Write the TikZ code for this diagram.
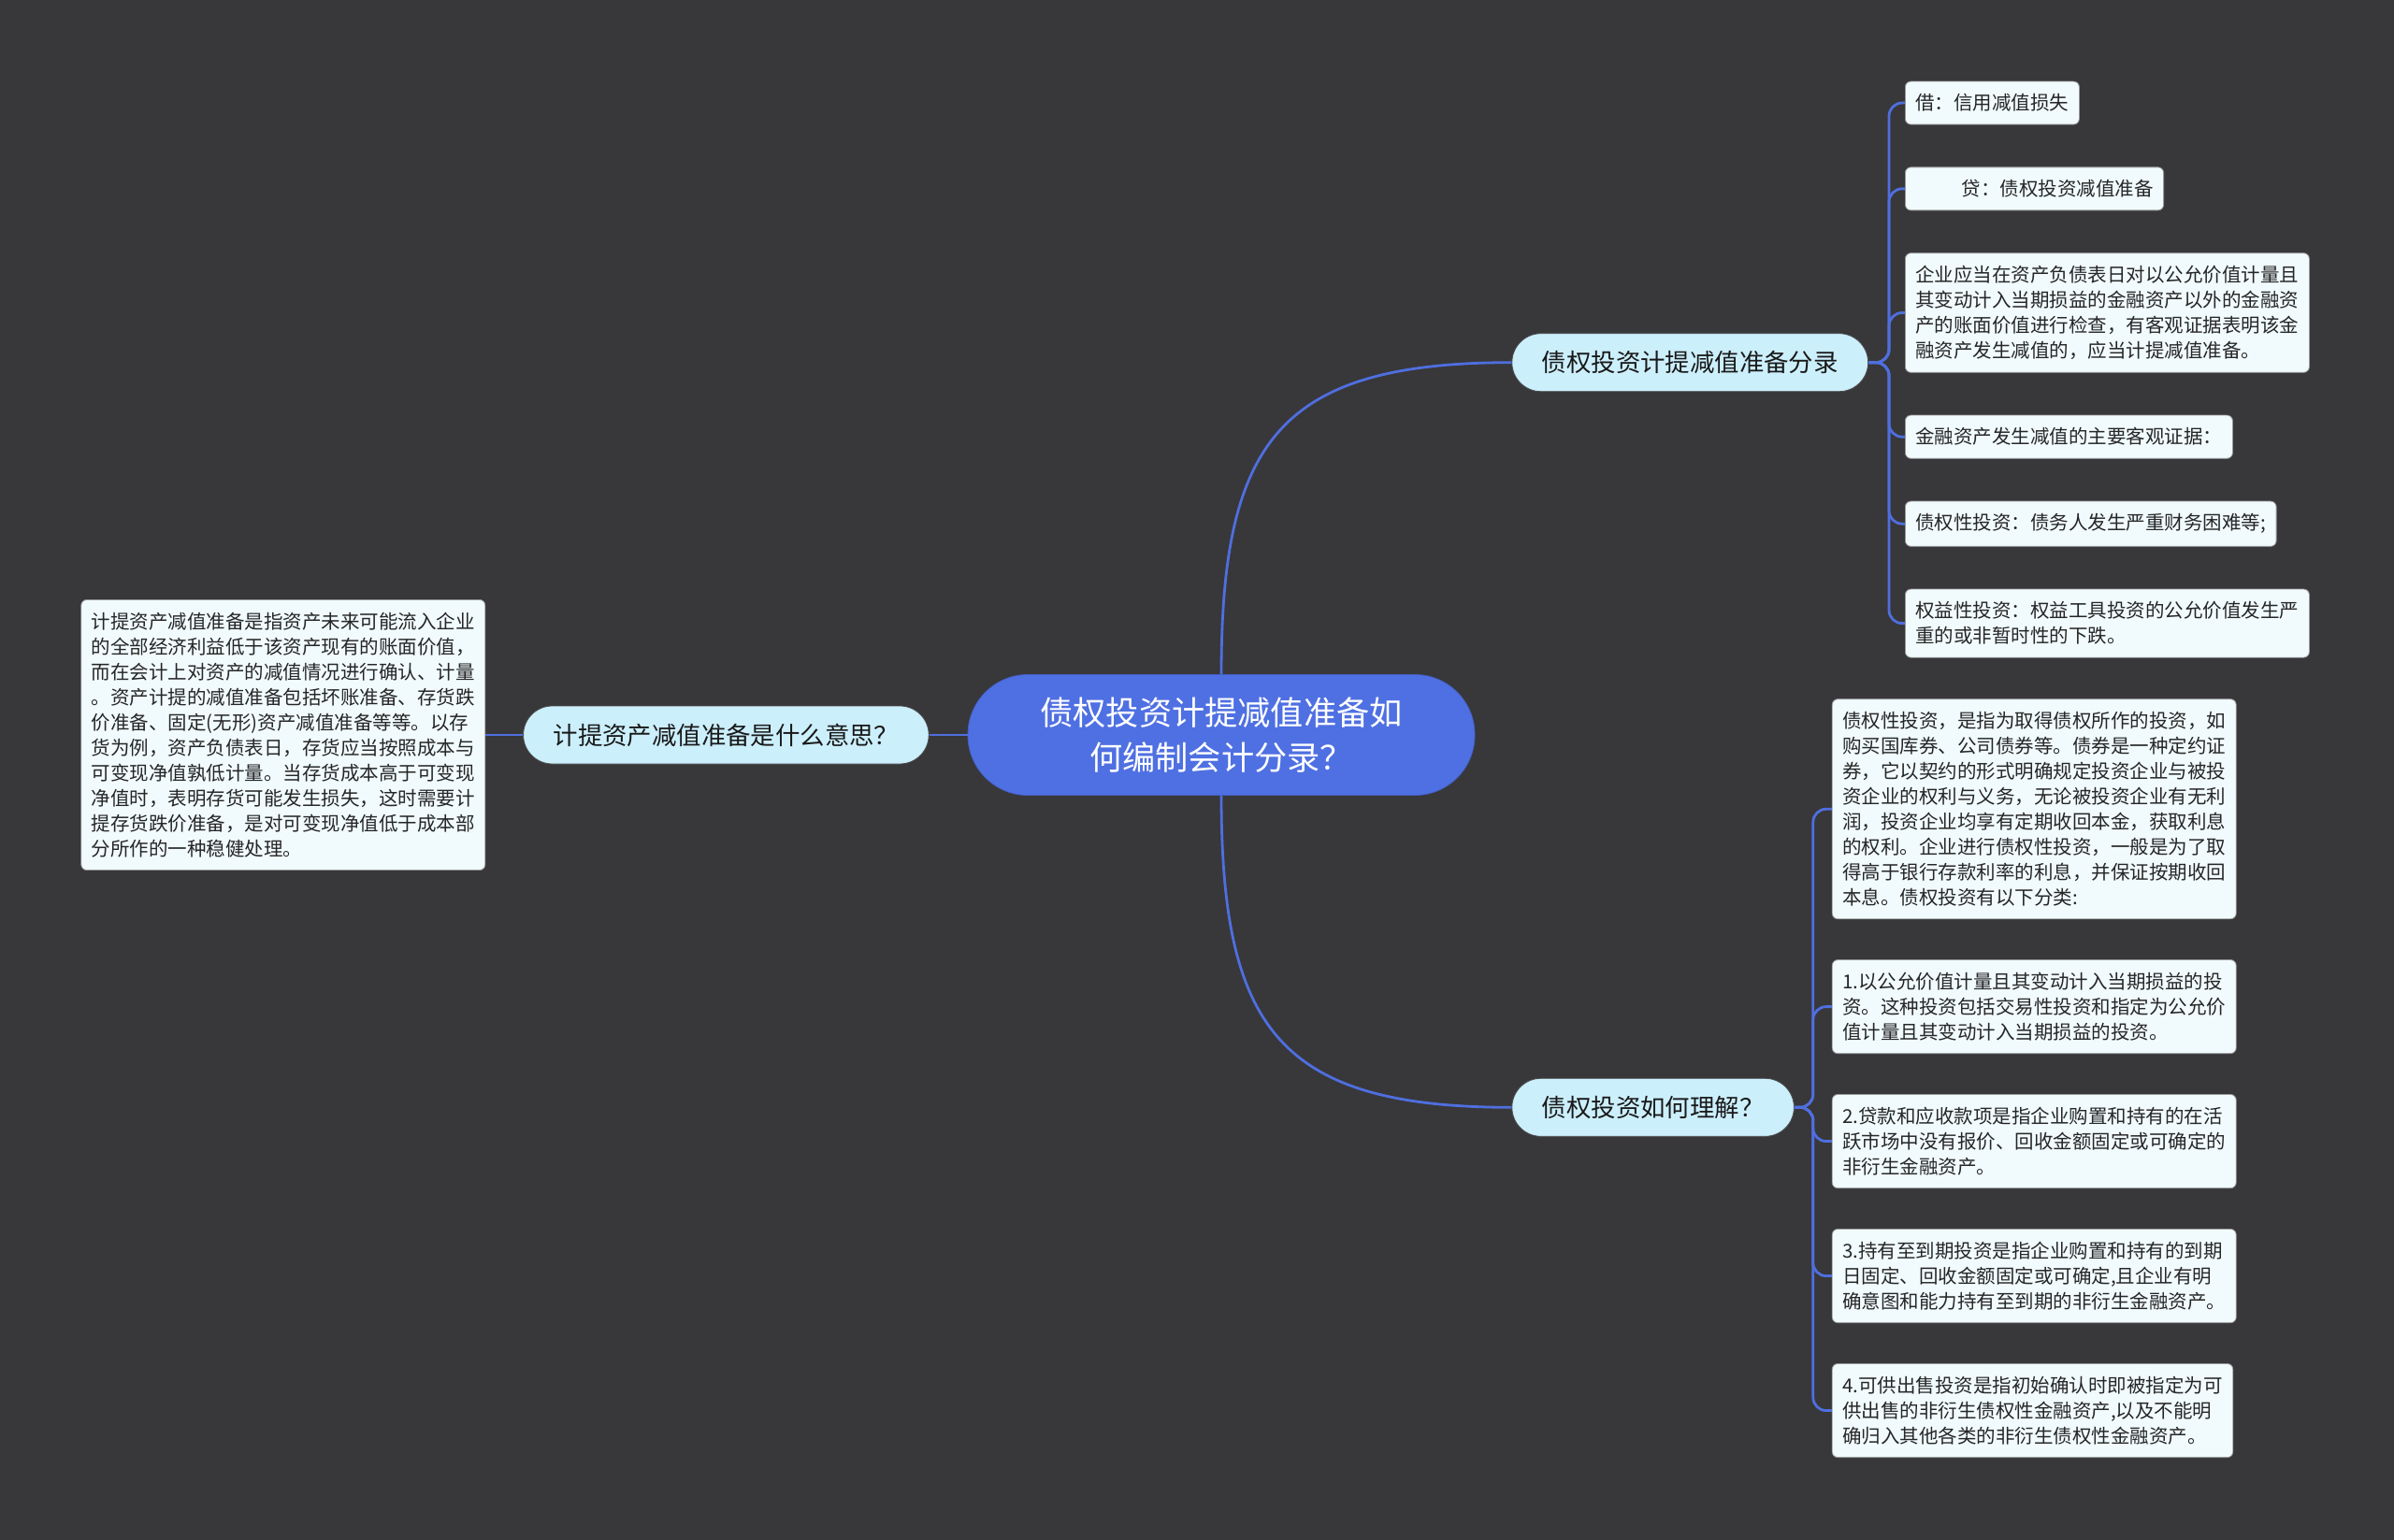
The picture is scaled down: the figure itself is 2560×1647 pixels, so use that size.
\documentclass[tikz,border=0pt]{standalone}
\usepackage{fontspec}
\setmainfont{Noto Sans CJK SC}
\usetikzlibrary{positioning}
\definecolor{canvas}{HTML}{38373A}
\definecolor{rootblue}{HTML}{4F70E2}
\definecolor{topicfill}{HTML}{CCEFFC}
\definecolor{notefill}{HTML}{F1FBFE}
\definecolor{linkblue}{HTML}{4F6FDF}

\begin{document}
\begin{tikzpicture}[
  x=0.5pt, y=-0.5pt,
  root/.style={rectangle, draw=rootblue!85!black, fill=rootblue, rounded corners=32pt,
               minimum width=271pt, minimum height=64.5pt, align=center, text=white,
               font=\fontsize{17.6pt}{24pt}\selectfont},
  topic/.style={rectangle, draw=black!70, line width=0.4pt, fill=topicfill, rounded corners=15.5pt,
                minimum height=31pt, inner xsep=16pt, font=\fontsize{13.2pt}{16pt}\selectfont,
                text=black!90},
  note/.style={rectangle, draw=black!40, line width=0.4pt, fill=notefill, rounded corners=3pt,
               inner xsep=5.5pt, inner ysep=6.75pt, align=left,
               font=\fontsize{10.25pt}{13.5pt}\selectfont, text=black!85},
  link/.style={draw=linkblue, line width=1.4pt},
]
  \fill[canvas] (0,0) rectangle (2560,1647);
  \useasboundingbox (0,0) rectangle (2560,1647);

  \node[root] (root) at (1306,786) {债权投资计提减值准备如\\何编制会计分录？};
  \node[topic, left=20.5pt of root] (lq) {计提资产减值准备是什么意思？};
  \node[note, left=20pt of lq] (ld) {计提资产减值准备是指资产未来可能流入企业\\的全部经济利益低于该资产现有的账面价值，\\而在会计上对资产的减值情况进行确认、计量\\。资产计提的减值准备包括坏账准备、存货跌\\价准备、固定(无形)资产减值准备等等。以存\\货为例，资产负债表日，存货应当按照成本与\\可变现净值孰低计量。当存货成本高于可变现\\净值时，表明存货可能发生损失，这时需要计\\提存货跌价准备，是对可变现净值低于成本部\\分所作的一种稳健处理。};
  \node[topic, above right=151pt and 19.5pt of root] (jz) {债权投资计提减值准备分录};
  \node[topic, below right=151pt and 19.5pt of root] (lj) {债权投资如何理解？};

  % entries
  \node[note, right=19.5pt of jz.east, anchor=north west, yshift=150.5pt] (j1) {借：信用减值损失};
  \node[note, below=22.5pt of j1.south west, anchor=north west] (j2) {\hspace*{2.4em}贷：债权投资减值准备};
  \node[note, below=22.5pt of j2.south west, anchor=north west] (j3) {企业应当在资产负债表日对以公允价值计量且\\其变动计入当期损益的金融资产以外的金融资\\产的账面价值进行检查，有客观证据表明该金\\融资产发生减值的，应当计提减值准备。};
  \node[note, below=22.5pt of j3.south west, anchor=north west] (j4) {金融资产发生减值的主要客观证据：};
  \node[note, below=22.5pt of j4.south west, anchor=north west] (j5) {债权性投资：债务人发生严重财务困难等;};
  \node[note, below=22.5pt of j5.south west, anchor=north west] (j6) {权益性投资：权益工具投资的公允价值发生严\\重的或非暂时性的下跌。};

  % categories
  \node[note, right=20pt of lj.east, anchor=north west, yshift=218.5pt] (l1) {债权性投资，是指为取得债权所作的投资，如\\购买国库券、公司债券等。债券是一种定约证\\券，它以契约的形式明确规定投资企业与被投\\资企业的权利与义务，无论被投资企业有无利\\润，投资企业均享有定期收回本金，获取利息\\的权利。企业进行债权性投资，一般是为了取\\得高于银行存款利率的利息，并保证按期收回\\本息。债权投资有以下分类:};
  \node[note, below=21.5pt of l1.south west, anchor=north west] (l2) {1.以公允价值计量且其变动计入当期损益的投\\资。这种投资包括交易性投资和指定为公允价\\值计量且其变动计入当期损益的投资。};
  \node[note, below=21.5pt of l2.south west, anchor=north west] (l3) {2.贷款和应收款项是指企业购置和持有的在活\\跃市场中没有报价、回收金额固定或可确定的\\非衍生金融资产。};
  \node[note, below=21.5pt of l3.south west, anchor=north west] (l4) {3.持有至到期投资是指企业购置和持有的到期\\日固定、回收金额固定或可确定,且企业有明\\确意图和能力持有至到期的非衍生金融资产。};
  \node[note, below=21.5pt of l4.south west, anchor=north west] (l5) {4.可供出售投资是指初始确认时即被指定为可\\供出售的非衍生债权性金融资产,以及不能明\\确归入其他各类的非衍生债权性金融资产。};

  \draw[link] (root.north) to[out=90, in=180, looseness=1.4] (jz.west);
  \draw[link] (root.south) to[out=-90, in=180, looseness=1.4] (lj.west);
  \draw[link] (root.west) -- (lq.east);
  \draw[link] (lq.west) -- (ld.east);
  \foreach \n in {j1,j2,j3,j4,j5,j6}
    \draw[link, rounded corners=7pt] (jz.east) -- ++(11pt,0) |- (\n.west);
  \foreach \n in {l1,l2,l3,l4,l5}
    \draw[link, rounded corners=7pt] (lj.east) -- ++(10pt,0) |- (\n.west);
\end{tikzpicture}
\end{document}
